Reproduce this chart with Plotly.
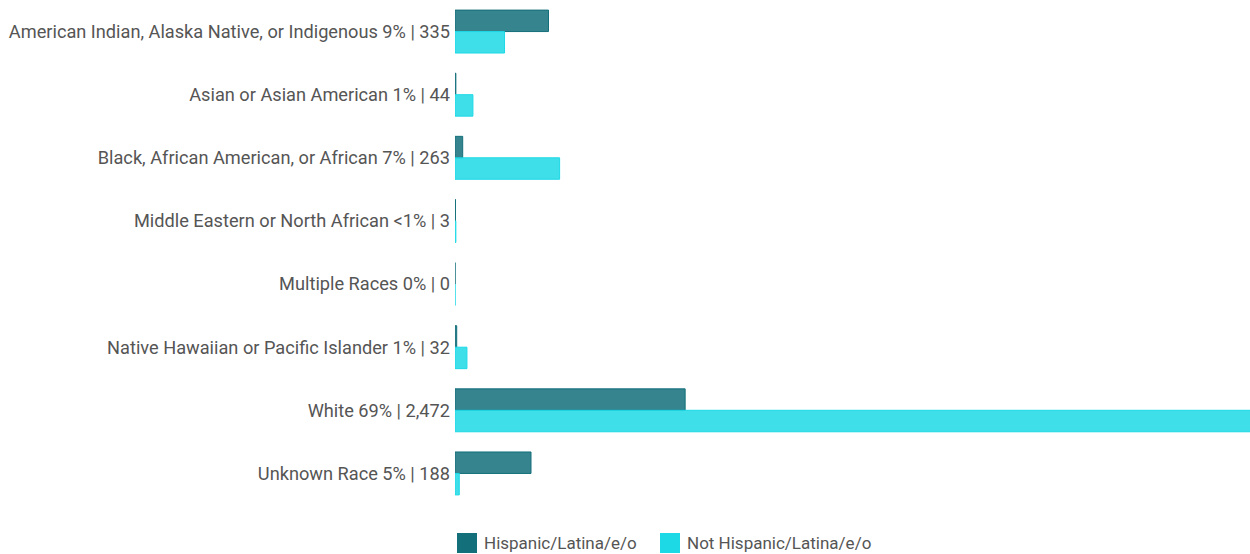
import plotly.graph_objects as go

# Race categories (top to bottom) with ethnicity split
categories = [
    "American Indian, Alaska Native, or Indigenous",
    "Asian or Asian American",
    "Black, African American, or African",
    "Middle Eastern or North African",
    "Multiple Races",
    "Native Hawaiian or Pacific Islander",
    "White",
    "Unknown Race",
]
pct_labels = ["9%", "1%", "7%", "<1%", "0%", "1%", "69%", "5%"]
hispanic = [219, 2, 18, 1, 0, 4, 539, 178]
not_hispanic = [116, 42, 245, 2, 0, 28, 1933, 10]

series_names = ["Hispanic/Latina/e/o", "Not Hispanic/Latina/e/o"]
series_colors = ["19,111,122", "29,217,230"]

totals = [h + n for h, n in zip(hispanic, not_hispanic)]
tick_text = [f"{c} {p} | {t:,}" for c, p, t in zip(categories, pct_labels, totals)]

W, H = 1250, 554
ML, MT, MB = 455, 0, 49

fig = go.Figure()
for name, vals, rgb in zip(series_names, [hispanic, not_hispanic], series_colors):
    fig.add_trace(go.Bar(
        y=categories, x=vals, name=name, orientation="h",
        marker=dict(color=f"rgba({rgb},0.85)", line=dict(color=f"rgb({rgb})", width=1)),
        showlegend=False, hoverinfo="x+name",
    ))

fig.update_layout(
    width=W, height=H,
    margin=dict(l=ML, r=0, t=MT, b=MB, pad=0),
    barmode="group", bargap=0.32, bargroupgap=0,
    plot_bgcolor="white", paper_bgcolor="white",
    font=dict(family="Roboto, sans-serif", color="#555555"),
    xaxis=dict(range=[0, 1862], visible=False, fixedrange=True),
    yaxis=dict(
        autorange="reversed", tickmode="array", tickvals=categories, ticktext=tick_text,
        ticks="", showgrid=False, showline=False, zeroline=False,
        tickfont=dict(size=18.2, color="#555555"), ticklabelstandoff=4,
    ),
)

# Legend drawn as colored squares with labels below the plot area
plot_w = W - ML
plot_h = H - MT - MB
def px_x(px):
    return (px - ML) / plot_w
def px_y(py):
    return (plot_h - (py - MT)) / plot_h

legend_items = [(457, 482), (660, 685)]
for (sx, tx), name, rgb in zip(legend_items, series_names, series_colors):
    fig.add_shape(type="rect", xref="paper", yref="paper",
                  x0=px_x(sx), x1=px_x(sx + 20), y0=px_y(553), y1=px_y(533),
                  fillcolor=f"rgb({rgb})", line=dict(width=0))
    fig.add_annotation(xref="paper", yref="paper", x=px_x(tx), y=px_y(543),
                       xanchor="left", yanchor="middle", text=name, showarrow=False,
                       font=dict(size=17, color="#555555"))

fig.write_html("out.html")
